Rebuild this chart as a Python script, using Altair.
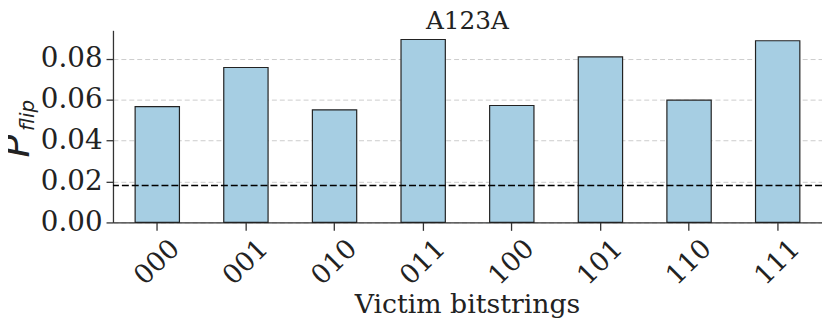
import altair as alt
import pandas as pd

categories = ["000", "001", "010", "011", "100", "101", "110", "111"]
values = [0.0567, 0.0758, 0.0551, 0.0895, 0.0572, 0.0810, 0.0598, 0.0889]
threshold = [0.0181]
y_ticks = [0.0, 0.02, 0.04, 0.06, 0.08]

df = pd.DataFrame({"bitstring": categories, "p": values})
df_line = pd.DataFrame({"t": threshold})

FONT = "DejaVu Serif"
W, H = 716, 194

x_enc = alt.X(
    "bitstring:N",
    sort=categories,
    title=None,
    scale=alt.Scale(paddingInner=0.5, paddingOuter=0.25),
    axis=alt.Axis(
        labelAngle=-45,
        labelAlign="center",
        labelBaseline="middle",
        labelFont=FONT,
        labelFontSize=27,
        labelColor="#222222",
        labelPadding=32,
        domainColor="#333333",
        domainWidth=1.3,
        tickColor="#333333",
        tickWidth=1.3,
        tickSize=8,
        grid=False,
    ),
)

y_scale = alt.Scale(domain=[0, 0.094], nice=False)

bars = alt.Chart(df).mark_bar(
    color="#a6cee3", stroke="#222222", strokeWidth=1.2
).encode(
    x=x_enc,
    y=alt.Y(
        "p:Q",
        scale=y_scale,
        title=None,
        axis=alt.Axis(
            values=y_ticks,
            format=".2f",
            labelFont=FONT,
            labelFontSize=28,
            labelColor="#222222",
            labelPadding=4,
            domainColor="#333333",
            domainWidth=1.3,
            tickColor="#333333",
            tickWidth=1.3,
            tickSize=7,
            grid=True,
            gridColor="#cccccc",
            gridDash=[5, 3],
            gridWidth=1,
        ),
    ),
)

rule = alt.Chart(df_line).mark_rule(
    color="black", strokeDash=[7, 3], strokeWidth=1.6
).encode(y=alt.Y("t:Q", scale=y_scale))

def label(txt, **kw):
    enc = {k: v for k, v in kw.items() if k in ("x", "y")}
    props = {k: v for k, v in kw.items() if k not in ("x", "y")}
    return alt.Chart(pd.DataFrame({"s": [txt]})).mark_text(
        color="#222222", **props
    ).encode(text="s:N", x=alt.value(enc["x"]), y=alt.value(enc["y"]))

p_label = label("P", font="DejaVu Sans", fontStyle="italic", fontSize=38,
                angle=270, align="center", baseline="alphabetic", x=-85, y=117)
sub_label = label("flip", font="DejaVu Sans", fontStyle="italic", fontSize=20,
                  angle=270, align="center", baseline="alphabetic", x=-80, y=86)
title_label = label("A123A", font=FONT, fontSize=25, align="center",
                    baseline="alphabetic", x=W / 2, y=-1)
xtitle_label = label("Victim bitstrings", font=FONT, fontSize=27, align="center",
                     baseline="alphabetic", x=W / 2, y=285)

chart = alt.layer(bars, rule, p_label, sub_label, title_label, xtitle_label).properties(
    width=W,
    height=H,
    padding={"left": 106, "top": 21, "right": 0, "bottom": 98},
    autosize=alt.AutoSizeParams(type="none"),
).configure_view(stroke=None)

chart.save("out.html", embed_options={"renderer": "svg", "actions": False})
